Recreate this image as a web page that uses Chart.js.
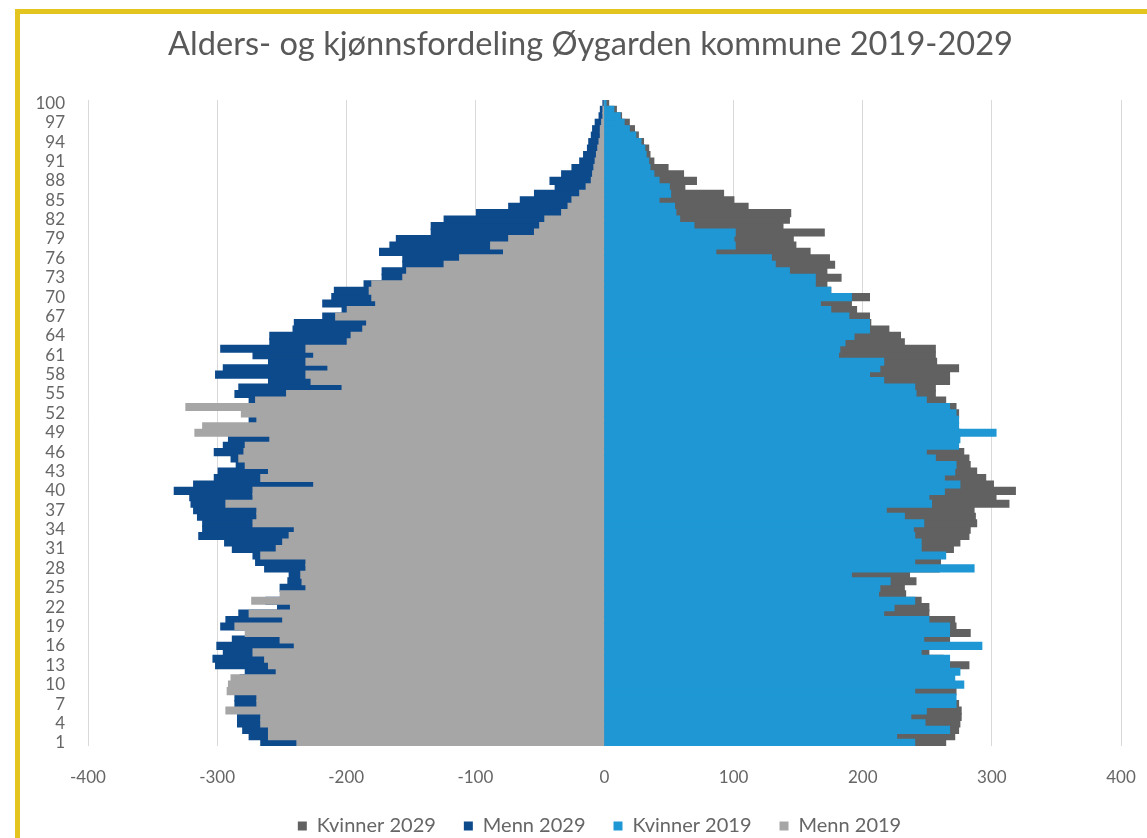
<!DOCTYPE html>
<html>
<head>
<meta charset="utf-8">
<script src="https://cdn.jsdelivr.net/npm/chart.js@4.4.0/dist/chart.umd.min.js"></script>
<style>
html, body { margin: 0; padding: 0; background: #fff; overflow: hidden; }
#frame { position: absolute; left: 15px; top: 9px; width: 1300px; height: 826px;
         border-left: 5px solid #e4c41f; border-top: 5px solid #e4c41f; border-bottom: 2px solid #e4c41f; }
#wrap { position: absolute; left: 0; top: 0; width: 1147px; height: 846px; }
</style>
</head>
<body>
<div id="frame"></div>
<div id="wrap"><canvas id="pyramid"></canvas></div>
<script>
// ages 1..100, bottom to top
const ages = [
    1, 2, 3, 4, 5, 6, 7, 8, 9, 10,
    11, 12, 13, 14, 15, 16, 17, 18, 19, 20,
    21, 22, 23, 24, 25, 26, 27, 28, 29, 30,
    31, 32, 33, 34, 35, 36, 37, 38, 39, 40,
    41, 42, 43, 44, 45, 46, 47, 48, 49, 50,
    51, 52, 53, 54, 55, 56, 57, 58, 59, 60,
    61, 62, 63, 64, 65, 66, 67, 68, 69, 70,
    71, 72, 73, 74, 75, 76, 77, 78, 79, 80,
    81, 82, 83, 84, 85, 86, 87, 88, 89, 90,
    91, 92, 93, 94, 95, 96, 97, 98, 99, 100
];

// only every third age gets a label
const shownAges = [1, 4, 7, 10, 13, 16, 19, 22, 25, 28, 31, 34, 37, 40, 43, 46, 49,
    52, 55, 58, 61, 64, 67, 70, 73, 76, 79, 82, 85, 88, 91, 94, 97, 100];

const xTicks = [-400, -300, -200, -100, 0, 100, 200, 300, 400];

const menn2019 = [
    -238, -260, -260, -266, -266, -293, -269, -269, -292, -291,
    -289, -254, -260, -263, -272, -240, -251, -278, -286, -249,
    -275, -243, -273, -251, -231, -234, -235, -231, -231, -266,
    -254, -249, -244, -240, -272, -269, -269, -293, -272, -272,
    -225, -266, -260, -278, -283, -279, -278, -259, -317, -311,
    -269, -281, -324, -270, -246, -203, -227, -231, -214, -231,
    -225, -231, -199, -196, -187, -184, -208, -199, -177, -180,
    -182, -180, -156, -153, -124, -112, -78, -88, -74, -54,
    -50, -46, -33, -28, -25, -19, -14, -10, -9, -8,
    -7, -6, -5, -4, -3, -3, -2, -1, -1, 0
];

const menn2029 = [
    -266, -275, -280, -284, -284, -282, -286, -286, -285, -284,
    -282, -278, -301, -303, -295, -300, -288, -272, -297, -293,
    -283, -253, -262, -245, -251, -245, -244, -263, -270, -272,
    -288, -294, -314, -311, -311, -315, -318, -320, -321, -333,
    -318, -302, -299, -285, -289, -302, -295, -291, -270, -272,
    -275, -270, -275, -275, -286, -283, -260, -301, -295, -260,
    -272, -297, -259, -259, -241, -240, -218, -203, -218, -211,
    -209, -186, -172, -172, -156, -156, -174, -166, -161, -134,
    -134, -124, -99, -74, -65, -54, -38, -42, -33, -25,
    -19, -16, -13, -12, -10, -9, -7, -4, -3, -1
];

const kvinner2019 = [
    240, 226, 267, 248, 237, 249, 272, 272, 240, 278,
    271, 275, 267, 267, 245, 292, 247, 267, 267, 251,
    216, 224, 240, 212, 213, 221, 191, 286, 240, 264,
    245, 245, 240, 239, 247, 232, 218, 253, 251, 263,
    275, 263, 271, 272, 256, 249, 274, 275, 303, 274,
    274, 272, 267, 249, 241, 240, 216, 205, 213, 216,
    181, 182, 186, 193, 205, 205, 189, 175, 167, 191,
    175, 163, 163, 143, 132, 129, 86, 101, 100, 101,
    69, 58, 55, 54, 42, 51, 50, 42, 38, 35,
    34, 32, 31, 28, 24, 19, 15, 12, 7, 1
];

const kvinner2029 = [
    264, 271, 274, 275, 276, 276, 274, 268, 272, 270,
    265, 270, 282, 262, 251, 250, 267, 283, 272, 271,
    251, 251, 245, 233, 232, 241, 236, 259, 260, 258,
    270, 275, 282, 283, 288, 287, 286, 313, 303, 318,
    301, 295, 288, 283, 282, 278, 272, 270, 275, 272,
    272, 274, 272, 264, 256, 256, 267, 267, 274, 257,
    256, 256, 232, 229, 220, 206, 205, 195, 191, 205,
    175, 172, 183, 172, 178, 174, 159, 148, 146, 170,
    138, 143, 144, 111, 100, 92, 62, 71, 61, 49,
    38, 35, 34, 30, 26, 23, 19, 13, 9, 3
];

const textColor = '#666666';
const fontName = 'Lato';

// legend order as in the original: Kvinner 2029, Menn 2029, Kvinner 2019, Menn 2019
const legendRank = { 'Kvinner 2029': 0, 'Menn 2029': 1, 'Kvinner 2019': 2, 'Menn 2019': 3 };

// title and legend sit a bit right of the centre in the original
const shiftBoxes = {
    id: 'shiftBoxes',
    afterLayout: function (chart) {
        if (chart.titleBlock) { chart.titleBlock.left += 30; chart.titleBlock.right += 30; }
        if (chart.legend) { chart.legend.left += 39; chart.legend.right += 39; }
    }
};

const ctx = document.getElementById('pyramid').getContext('2d');

const pyramid = new Chart(ctx, {
    type: 'bar',
    data: {
        labels: ages,
        // 2019 first so they are drawn on top of the 2029 bars
        datasets: [{
            label: 'Kvinner 2019',
            data: kvinner2019,
            backgroundColor: '#1f97d5'
        }, {
            label: 'Menn 2019',
            data: menn2019,
            backgroundColor: '#a6a6a6'
        }, {
            label: 'Kvinner 2029',
            data: kvinner2029,
            backgroundColor: '#616161'
        }, {
            label: 'Menn 2029',
            data: menn2029,
            backgroundColor: '#0d4a8c'
        }]
    },
    plugins: [shiftBoxes],
    options: {
        indexAxis: 'y',
        responsive: true,
        maintainAspectRatio: false,
        animation: false,
        datasets: {
            bar: {
                grouped: false,
                barPercentage: 1,
                categoryPercentage: 1,
                borderWidth: 0,
                inflateAmount: 0.8
            }
        },
        layout: {
            padding: { left: 0, right: 26, top: 0, bottom: 0 }
        },
        scales: {
            x: {
                min: -400,
                max: 400,
                afterBuildTicks: function (scale) {
                    scale.ticks = xTicks.map(v => ({ value: v }));
                },
                afterFit: function (scale) {
                    scale.height = 42;
                    scale.paddingLeft = 0;
                    scale.paddingRight = 0;
                },
                grid: { color: '#d9d9d9', lineWidth: 1, drawTicks: false },
                border: { display: false },
                ticks: {
                    color: textColor,
                    padding: 21,
                    font: { family: fontName, size: 17 }
                }
            },
            y: {
                reverse: true,
                afterFit: function (scale) {
                    scale.width = 88;
                    scale.paddingTop = 0;
                    scale.paddingBottom = 0;
                },
                grid: { display: false },
                border: { display: false },
                ticks: {
                    autoSkip: false,
                    padding: 15,
                    color: textColor,
                    font: { family: fontName, size: 17 },
                    callback: function (val, idx) {
                        return shownAges.includes(ages[idx]) ? String(ages[idx]) : '';
                    }
                }
            }
        },
        plugins: {
            title: {
                display: true,
                text: 'Alders- og kjønnsfordeling Øygarden kommune 2019-2029',
                color: '#595959',
                font: { family: fontName, size: 32.6, weight: 'normal' },
                padding: { top: 25, bottom: 36 }
            },
            legend: {
                position: 'bottom',
                labels: {
                    boxWidth: 9,
                    boxHeight: 9,
                    padding: 28,
                    color: textColor,
                    font: { family: fontName, size: 20 },
                    sort: (a, b) => legendRank[a.text] - legendRank[b.text]
                }
            },
            tooltip: { enabled: false }
        }
    }
});
</script>
</body>
</html>
